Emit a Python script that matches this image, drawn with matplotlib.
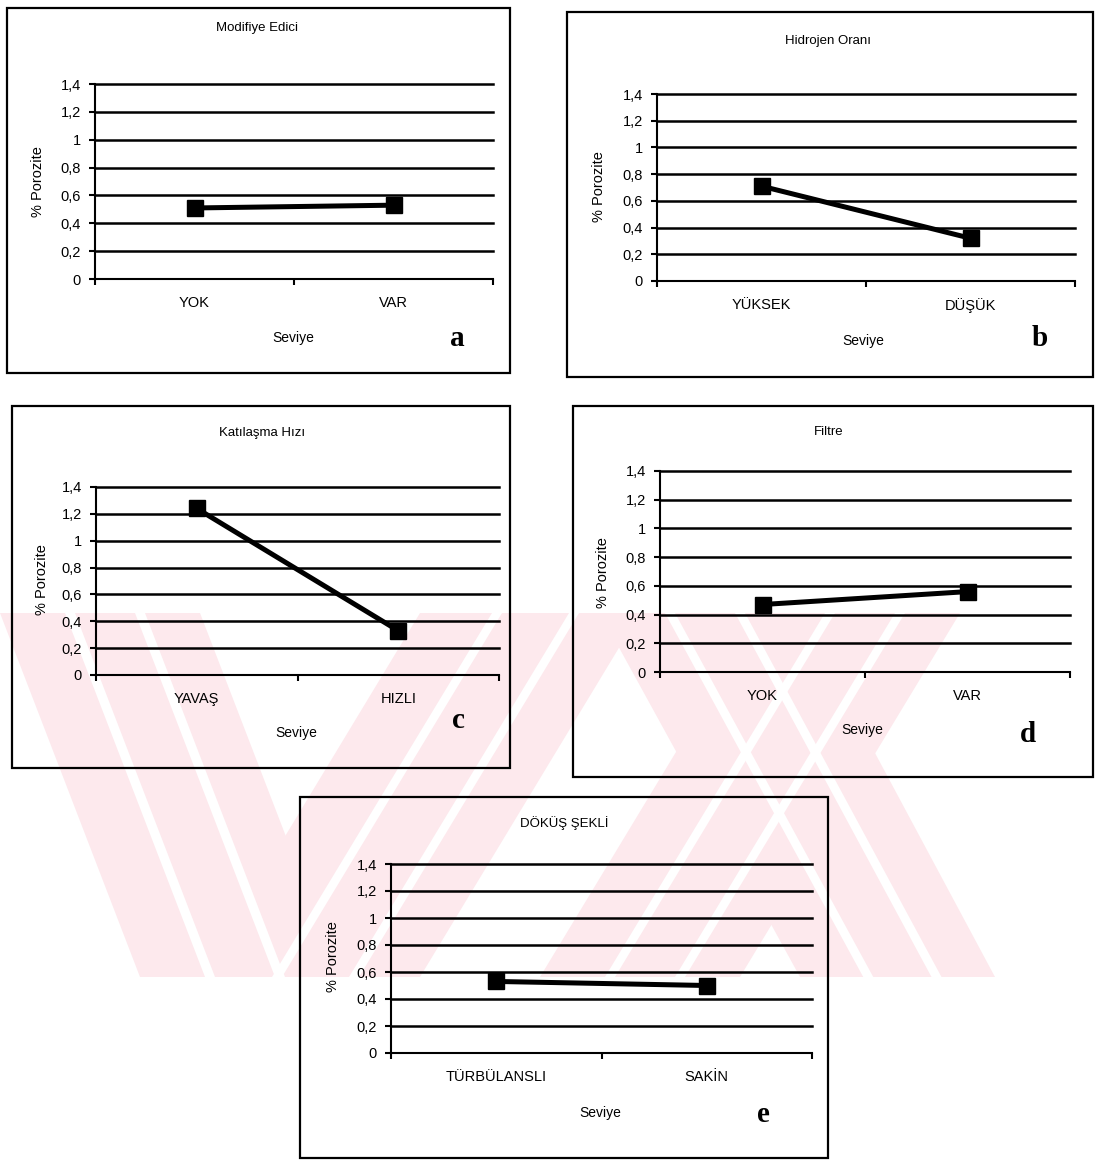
import numpy as np
import matplotlib
matplotlib.use("Agg")
import matplotlib.pyplot as plt
from matplotlib.patches import Rectangle, Polygon

# data
titles = ['Modifiye Edici', 'Hidrojen Oranı', 'Katılaşma Hızı', 'Filtre', 'DÖKÜŞ ŞEKLİ']
levels_a = ['YOK', 'VAR']
levels_b = ['YÜKSEK', 'DÜŞÜK']
levels_c = ['YAVAŞ', 'HIZLI']
levels_d = ['YOK', 'VAR']
levels_e = ['TÜRBÜLANSLI', 'SAKİN']
porozite_a = [0.51, 0.53]
porozite_b = [0.71, 0.32]
porozite_c = [1.24, 0.33]
porozite_d = [0.47, 0.56]
porozite_e = [0.53, 0.50]
panel_letters = ['a', 'b', 'c', 'd', 'e']
y_ticks = [0, 0.2, 0.4, 0.6, 0.8, 1.0, 1.2, 1.4]
y_ticklabels = ['0', '0,2', '0,4', '0,6', '0,8', '1', '1,2', '1,4']

W, H = 1096, 1162
plt.rcParams['font.family'] = ['Liberation Sans', 'DejaVu Sans']

fig = plt.figure(figsize=(W / 100, H / 100), dpi=100)
fig.patch.set_facecolor('white')

# background layer in pixel coords (boxes and watermark)
bg = fig.add_axes([0, 0, 1, 1], zorder=-1)
bg.set_xlim(0, W)
bg.set_ylim(H, 0)
bg.axis('off')

# faint pink watermark behind the charts
pink = '#fde9ed'
wm_top, wm_bot = 613, 977
bands = [(0, 200, 140, 340), (420, 640, 200, 420), (760, 960, 540, 740), (600, 800, 800, 995)]
for t0, t1, b0, b1 in bands:
    bg.add_patch(Polygon([(t0, wm_top), (t1, wm_top), (b1, wm_bot), (b0, wm_bot)],
                         closed=True, fc=pink, ec='none'))
for t0, t1, b0, b1 in bands:
    for f in (0.35, 0.7):
        tm, bm = t0 + f * (t1 - t0), b0 + f * (b1 - b0)
        bg.add_patch(Polygon([(tm - 5, wm_top), (tm + 5, wm_top), (bm + 5, wm_bot), (bm - 5, wm_bot)],
                             closed=True, fc='white', ec='none'))

# panel layout: outer box, plot area, label positions (pixels)
panels = [
    dict(box=(7, 8, 510, 373), plot=(95, 84, 493, 279), title=(257, 28), ylab=(38, 182),
         sev=(293, 338), letter=(457, 338), levels=levels_a, vals=porozite_a),
    dict(box=(567, 12, 1093, 377), plot=(657, 94, 1075, 281), title=(828, 41), ylab=(599, 187),
         sev=(863, 341), letter=(1040, 339), levels=levels_b, vals=porozite_b),
    dict(box=(12, 406, 510, 768), plot=(96, 487, 499, 675), title=(262, 433), ylab=(42, 580),
         sev=(296, 733), letter=(458, 721), levels=levels_c, vals=porozite_c),
    dict(box=(573, 406, 1093, 777), plot=(660, 471, 1070, 672), title=(829, 432), ylab=(603, 573),
         sev=(862, 730), letter=(1028, 735), levels=levels_d, vals=porozite_d),
    dict(box=(300, 797, 828, 1158), plot=(391, 864, 812, 1053), title=(564, 823), ylab=(333, 957),
         sev=(600, 1113), letter=(763, 1115), levels=levels_e, vals=porozite_e),
]

def fig_xy(x, y):
    return x / W, 1 - y / H

for i, p in enumerate(panels):
    x0, y0, x1, y1 = p['box']
    bg.add_patch(Rectangle((x0, y0), x1 - x0, y1 - y0, fill=False, ec='black', lw=1.6))

    l, t, r, b = p['plot']
    ax = fig.add_axes([l / W, 1 - b / H, (r - l) / W, (b - t) / H], zorder=1)
    ax.set_facecolor('none')
    ax.set_xlim(-0.5, 1.5)
    ax.set_ylim(0, 1.4)
    for s in ['top', 'right']:
        ax.spines[s].set_visible(False)
    for s in ['left', 'bottom']:
        ax.spines[s].set_linewidth(1.5)
    for v in y_ticks[1:]:
        ax.axhline(v, color='black', lw=1.8, clip_on=False, zorder=1)

    ax.set_yticks(y_ticks)
    ax.set_yticklabels(y_ticklabels, fontsize=10.5)
    ax.tick_params(axis='y', direction='out', length=4, width=1.5, pad=6)
    ax.set_xticks([0, 1])
    ax.set_xticklabels(p['levels'], fontsize=10.5)
    ax.set_xticks([-0.5, 0.5, 1.5], minor=True)
    ax.tick_params(axis='x', which='major', length=0, pad=12)
    ax.tick_params(axis='x', which='minor', direction='out', length=4, width=1.5)

    ax.plot([0, 1], p['vals'], color='black', lw=3.6, marker='s', ms=11,
            mfc='black', mec='black', clip_on=False, zorder=3)

    fig.text(*fig_xy(*p['title']), titles[i], ha='center', va='center', fontsize=9.5)
    fig.text(*fig_xy(*p['ylab']), '% Porozite', ha='center', va='center', fontsize=10.5,
             rotation=90)
    fig.text(*fig_xy(*p['sev']), 'Seviye', ha='center', va='center', fontsize=10)
    fig.text(*fig_xy(*p['letter']), panel_letters[i], ha='center', va='center',
             fontsize=21, fontweight='bold', family='Liberation Serif')

fig.savefig('out.png', dpi=100)
